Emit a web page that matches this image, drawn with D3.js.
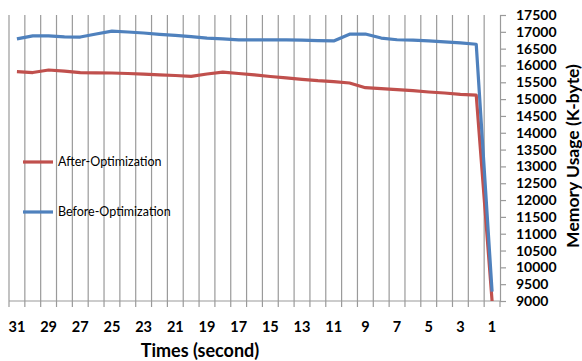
<!DOCTYPE html>
<html>
<head>
<meta charset="utf-8">
<script src="https://cdn.jsdelivr.net/npm/d3@7/dist/d3.min.js"></script>
<style>
  html, body { margin: 0; padding: 0; background: #fff; }
  svg { display: block; }
  text { font-family: "Lato", "Liberation Sans", sans-serif; fill: #000; }
</style>
</head>
<body>
<svg id="chart" width="582" height="361"></svg>
<script>
// Elapsed time in seconds, counting down toward the end of the run
const seconds = [31, 30, 29, 28, 27, 26, 25, 24, 23, 22, 21, 20, 19, 18, 17, 16,
                 15, 14, 13, 12, 11, 10, 9, 8, 7, 6, 5, 4, 3, 2, 1];

// Memory usage (K-byte) per second
const afterOptimization = [15815, 15790, 15865, 15830, 15790, 15782, 15776, 15761,
                           15740, 15723, 15702, 15675, 15746, 15800, 15761, 15723,
                           15672, 15631, 15589, 15547, 15518, 15479, 15339, 15313,
                           15280, 15250, 15211, 15181, 15143, 15120, 9000];
const beforeOptimization = [16790, 16880, 16880, 16850, 16845, 16935, 17020, 16995,
                            16965, 16925, 16895, 16855, 16810, 16790, 16760, 16760,
                            16760, 16760, 16755, 16740, 16730, 16930, 16935, 16815,
                            16765, 16755, 16730, 16700, 16670, 16630, 9280];

const yTicks = [9000, 9500, 10000, 10500, 11000, 11500, 12000, 12500, 13000, 13500,
                14000, 14500, 15000, 15500, 16000, 16500, 17000, 17500];
const xTickLabels = [31, 29, 27, 25, 23, 21, 19, 17, 15, 13, 11, 9, 7, 5, 3, 1];

const seriesNames = ["After-Optimization", "Before-Optimization"];
const seriesColors = ["#C0504D", "#4F81BD"];

const svg = d3.select("#chart");
const plot = { left: 9, right: 500, top: 15, bottom: 301 };
const gridColor = "#9a9a9a";

const x = d3.scaleBand().domain(seconds).range([plot.left, plot.right]).padding(0);
const y = d3.scaleLinear().domain([9000, 17500]).range([plot.bottom, plot.top]);

// Vertical grid lines at every category boundary
svg.append("g")
  .selectAll("line")
  .data(seconds)
  .join("line")
  .attr("x1", d => x(d)).attr("x2", d => x(d))
  .attr("y1", plot.top).attr("y2", plot.bottom)
  .attr("stroke", gridColor).attr("stroke-width", 1.2);

// Category axis along the bottom
const xAxis = svg.append("g").attr("transform", `translate(0,${plot.bottom})`);
xAxis.append("line")
  .attr("x1", plot.left).attr("x2", plot.right)
  .attr("stroke", gridColor).attr("stroke-width", 1.2);
const boundaries = seconds.map(d => x(d)).concat([plot.right]);
xAxis.selectAll("line.tick")
  .data(boundaries)
  .join("line")
  .attr("class", "tick")
  .attr("x1", d => d).attr("x2", d => d)
  .attr("y1", 0).attr("y2", 6)
  .attr("stroke", gridColor).attr("stroke-width", 1.2);
xAxis.selectAll("text")
  .data(xTickLabels)
  .join("text")
  .attr("x", d => x(d) + x.bandwidth() / 2)
  .attr("y", 31)
  .attr("text-anchor", "middle")
  .attr("font-size", 14.5)
  .attr("font-weight", "bold")
  .text(d => d);

// Value axis on the right
const yAxis = d3.axisRight(y).tickValues(yTicks).tickSize(6).tickPadding(10)
  .tickFormat(d3.format("d"));
const yg = svg.append("g").attr("transform", `translate(${plot.right},0)`).call(yAxis);
yg.select(".domain").attr("stroke", gridColor).attr("stroke-width", 1.2);
yg.selectAll(".tick line").attr("stroke", gridColor).attr("stroke-width", 1.2);
yg.selectAll(".tick text")
  .attr("font-family", "Lato, sans-serif")
  .attr("font-size", 14)
  .attr("font-weight", "bold")
  .attr("fill", "#000");

// Series lines
const line = d3.line()
  .x((d, i) => x(seconds[i]) + x.bandwidth() / 2)
  .y(d => y(d));

[afterOptimization, beforeOptimization].forEach((values, k) => {
  svg.append("path")
    .datum(values)
    .attr("d", line)
    .attr("fill", "none")
    .attr("stroke", seriesColors[k])
    .attr("stroke-width", 3.2)
    .attr("stroke-linejoin", "round");
});

// Legend
const legend = svg.append("g");
const legendY = [162, 212];
seriesNames.forEach((name, k) => {
  legend.append("line")
    .attr("x1", 23).attr("x2", 53)
    .attr("y1", legendY[k]).attr("y2", legendY[k])
    .attr("stroke", seriesColors[k]).attr("stroke-width", 3.2);
  legend.append("text")
    .attr("x", 58).attr("y", legendY[k])
    .attr("dy", "0.35em")
    .attr("font-size", 12.5)
    .text(name);
});

// Axis titles
svg.append("text")
  .attr("x", 200).attr("y", 357)
  .attr("text-anchor", "middle")
  .attr("font-size", 18)
  .attr("font-weight", "bold")
  .text("Times (second)");

svg.append("text")
  .attr("transform", "translate(579,156) rotate(-90)")
  .attr("text-anchor", "middle")
  .attr("font-size", 17.5)
  .attr("font-weight", "bold")
  .text("Memory Usage (K-byte)");
</script>
</body>
</html>
